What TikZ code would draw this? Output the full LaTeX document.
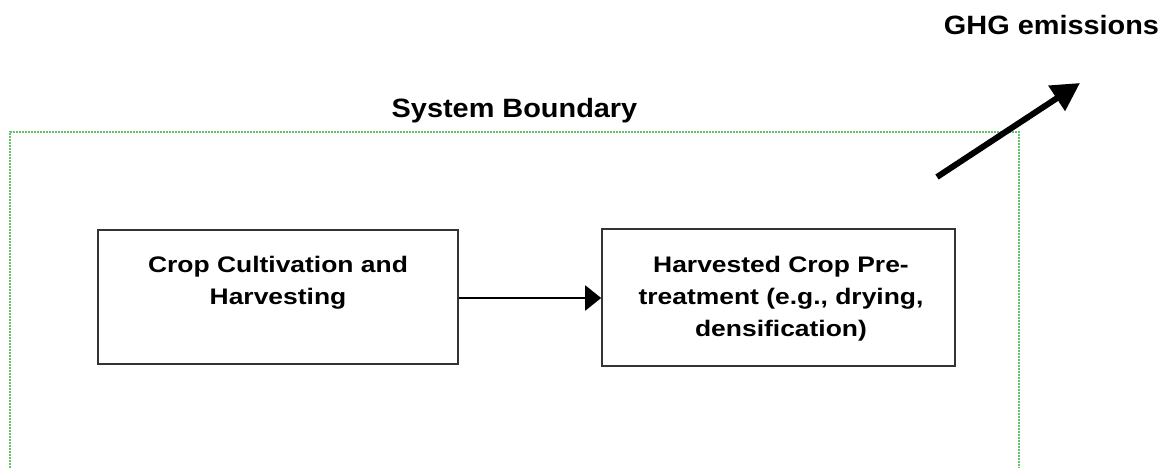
\documentclass[tikz,border=0pt]{standalone}
\usepackage{fontspec}
\setmainfont{Liberation Sans}
\usetikzlibrary{arrows.meta}
\definecolor{bgreen}{RGB}{100,195,100}
\tikzset{
  procbox/.style={draw=black!80, line width=1.6pt, fill=white, inner sep=0pt},
  boxtext/.style={inner sep=0pt, anchor=north, font=\bfseries\fontsize{22.5}{32}\selectfont},
  bigtext/.style={inner sep=0pt, anchor=base, font=\bfseries\fontsize{26.5}{30}\selectfont},
  boundary/.style={draw=bgreen, line width=1.3pt, dash pattern=on 2pt off 1pt},
  flow/.style={draw=black, line width=2pt, -{Triangle[length=16pt,width=25pt]}},
  emit/.style={draw=black, line width=6pt, -{Triangle[length=28pt,width=29pt]}}
}
\newcommand{\xs}[2]{\scalebox{#1}[1]{#2}}
\begin{document}
\begin{tikzpicture}[x=1pt,y=-1pt]
\useasboundingbox (0,0) rectangle (1165,468);
\draw[boundary] (10,468) -- (10,132) -- (1019,132) -- (1019,468);
\node[bigtext] (sb) at (514.5,118) {\xs{1.09}{System Boundary}};
\node[bigtext] (ghg) at (1051.5,35) {\xs{1.09}{GHG emissions}};
\node[procbox, minimum width=360pt, minimum height=134pt] (b1) at (278,297) {};
\node[procbox, minimum width=353pt, minimum height=137pt] (b2) at (778.5,297.5) {};
\node[boxtext] (t1) at (278,249.6) {\xs{1.175}{\begin{tabular}{@{}c@{}}Crop Cultivation and\\Harvesting\end{tabular}}};
\node[boxtext] (t2) at (781,249.6) {\xs{1.175}{\begin{tabular}{@{}c@{}}Harvested Crop Pre-\\treatment (e.g., drying,\\densification)\end{tabular}}};
\draw[flow] (b1.east |- 0,298) coordinate (fa) -- (b2.west |- fa);
\coordinate (et) at (937,177);
\coordinate (eh) at (1080,83);
\draw[emit] (et) -- (eh);
\end{tikzpicture}
\end{document}
